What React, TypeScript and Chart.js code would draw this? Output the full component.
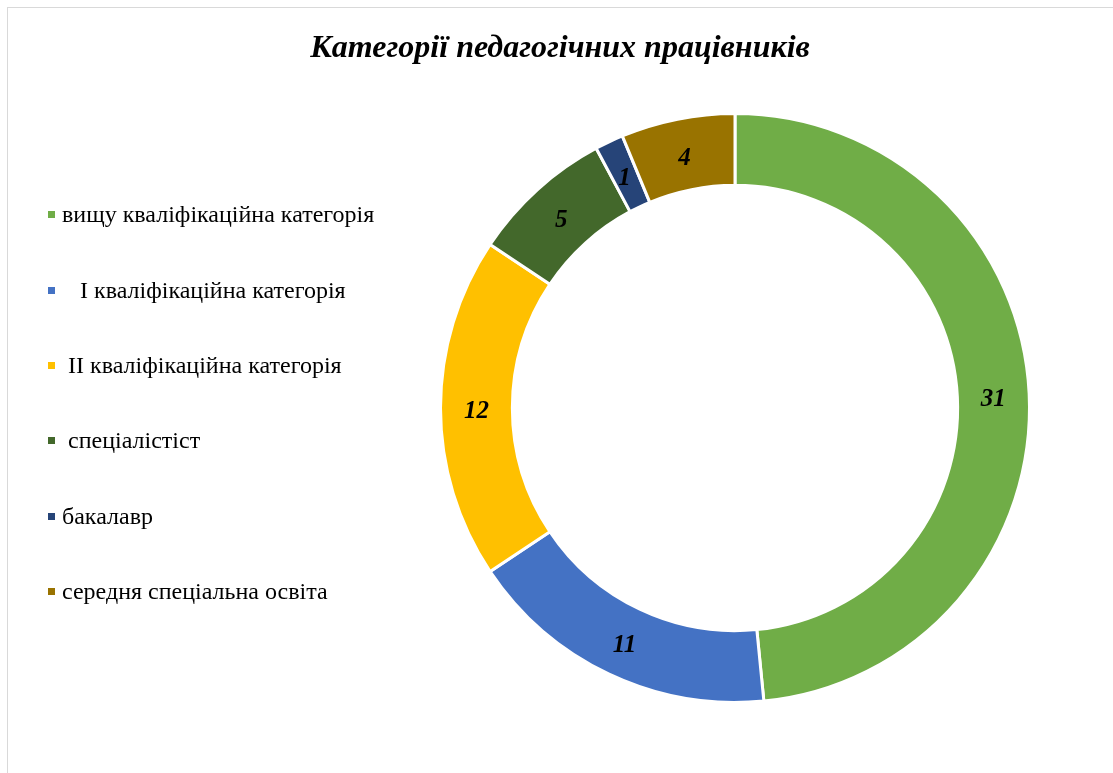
import React, { useEffect, useRef } from "react";
import { Chart, registerables } from "chart.js";

Chart.register(...registerables);

const TITLE = "Категорії педагогічних працівників";
const CATEGORIES = [
  "вищу кваліфікаційна категорія",
  "   І кваліфікаційна категорія",
  " ІІ кваліфікаційна категорія",
  " спеціалістіст",
  "бакалавр",
  "середня спеціальна освіта",
];
const VALUES = [31, 11, 12, 5, 1, 4];
const COLORS = ["#70AD47", "#4472C4", "#FFC000", "#43682B", "#264478", "#997300"];

const SERIF = '"Liberation Serif", "Times New Roman", serif';

const overlayPlugin = {
  id: "overlay",
  afterDraw(chart: any) {
    const ctx = chart.ctx;
    ctx.save();
    // title
    ctx.fillStyle = "#000";
    ctx.font = `italic bold 32px ${SERIF}`;
    ctx.textAlign = "center";
    ctx.textBaseline = "middle";
    ctx.fillText(TITLE, 560, 49);

    // legend
    const labels = chart.data.labels as string[];
    const colors = chart.data.datasets[0].backgroundColor as string[];
    const ys = [215, 291, 366, 441, 517, 592];
    ctx.font = `24px ${SERIF}`;
    ctx.textAlign = "left";
    labels.forEach((lab, i) => {
      const y = ys[i];
      ctx.fillStyle = colors[i];
      ctx.fillRect(48, y - 4, 7, 7);
      ctx.fillStyle = "#000";
      ctx.fillText(lab, 62, y + 1);
    });

    // data labels
    const meta = chart.getDatasetMeta(0);
    ctx.font = `italic bold 25px ${SERIF}`;
    ctx.textAlign = "center";
    ctx.textBaseline = "middle";
    ctx.fillStyle = "#000";
    meta.data.forEach((arc: any, i: number) => {
      const p = arc.tooltipPosition();
      ctx.fillText(String(chart.data.datasets[0].data[i]), p.x, p.y + 4);
    });
    ctx.restore();
  },
};

export default function App() {
  const ref = useRef<HTMLCanvasElement | null>(null);
  useEffect(() => {
    document.body.style.margin = "0";
    const chart = new Chart(ref.current!, {
      type: "doughnut",
      data: {
        labels: CATEGORIES,
        datasets: [
          {
            data: VALUES,
            backgroundColor: COLORS,
            borderColor: "#ffffff",
            borderWidth: 3,
          },
        ],
      },
      options: {
        animation: false,
        responsive: false,
        cutout: "75.6%",
        rotation: 0,
        layout: { padding: { left: 439, right: 82, top: 112, bottom: 69 } },
        plugins: {
          legend: { display: false },
          title: { display: false },
          tooltip: { enabled: false },
        },
      },
      plugins: [overlayPlugin],
    });
    return () => chart.destroy();
  }, []);
  return (
    <div style={{ position: "relative", width: 1113, height: 773, overflow: "hidden", background: "#fff" }}>
      <div
        style={{
          position: "absolute",
          left: 7,
          top: 7,
          width: 1200,
          height: 900,
          borderTop: "1px solid #d9d9d9",
          borderLeft: "1px solid #d9d9d9",
        }}
      />
      <canvas ref={ref} width={1113} height={773} style={{ position: "absolute", left: 0, top: 0 }} />
    </div>
  );
}
